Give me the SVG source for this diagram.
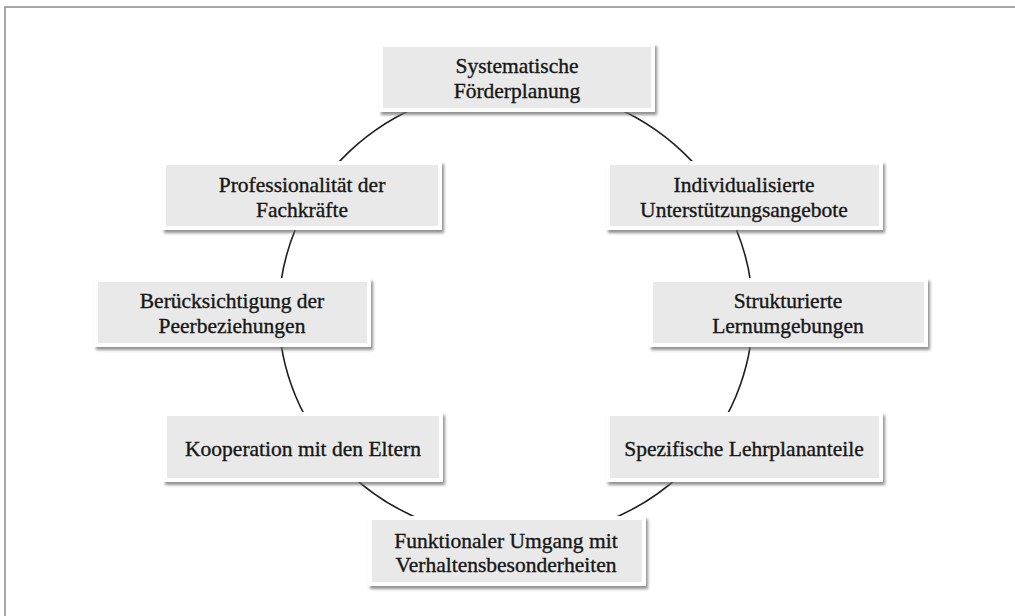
<svg xmlns="http://www.w3.org/2000/svg" width="1015" height="616" viewBox="0 0 1015 616">
<defs>
<filter id="sh" x="-10%" y="-20%" width="125%" height="150%">
<feDropShadow dx="2" dy="3" stdDeviation="1.6" flood-color="#6a6a6a" flood-opacity="0.75"/>
</filter>
<style>
.box{fill:#e9e9e9;stroke:#ffffff;stroke-width:4;filter:url(#sh);}
.t{font-family:"Liberation Serif","Times New Roman",serif;font-size:21.5px;fill:#161616;stroke:#161616;stroke-width:0.35;text-anchor:middle;}
.frame{fill:none;stroke:#8c8c8c;stroke-width:1.5;}
.ring{fill:none;stroke:#1e1e1e;stroke-width:1.6;}
</style>
</defs>
<rect width="1015" height="616" fill="#ffffff"/>
<rect class="frame" x="5" y="7" width="1030" height="640"/>
<g id="connectors">
<ellipse class="ring" cx="515.8" cy="312.5" rx="237" ry="226"/>
</g>
<g id="n1">
<rect class="box" x="381" y="45" width="272" height="65"/>
<text class="t" x="517" y="73">Systematische</text>
<text class="t" x="517" y="98">Förderplanung</text>
</g>
<g id="n2">
<rect class="box" x="164" y="163" width="276" height="65"/>
<text class="t" x="302" y="192">Professionalität der</text>
<text class="t" x="302" y="217">Fachkräfte</text>
</g>
<g id="n3">
<rect class="box" x="608" y="163" width="273" height="65"/>
<text class="t" x="744" y="192">Individualisierte</text>
<text class="t" x="744" y="217">Unterstützungsangebote</text>
</g>
<g id="n4">
<rect class="box" x="96" y="280" width="273" height="65"/>
<text class="t" x="232" y="308">Berücksichtigung der</text>
<text class="t" x="232" y="333">Peerbeziehungen</text>
</g>
<g id="n5">
<rect class="box" x="651" y="280" width="275" height="65"/>
<text class="t" x="788" y="308">Strukturierte</text>
<text class="t" x="788" y="333">Lernumgebungen</text>
</g>
<g id="n6">
<rect class="box" x="165" y="414" width="276" height="66"/>
<text class="t" x="303" y="456">Kooperation mit den Eltern</text>
</g>
<g id="n7">
<rect class="box" x="608" y="414" width="273" height="66"/>
<text class="t" x="744" y="456">Spezifische Lehrplananteile</text>
</g>
<g id="n8">
<rect class="box" x="370" y="518" width="274" height="66"/>
<text class="t" x="506" y="548">Funktionaler Umgang mit</text>
<text class="t" x="506" y="572">Verhaltensbesonderheiten</text>
</g>
</svg>
